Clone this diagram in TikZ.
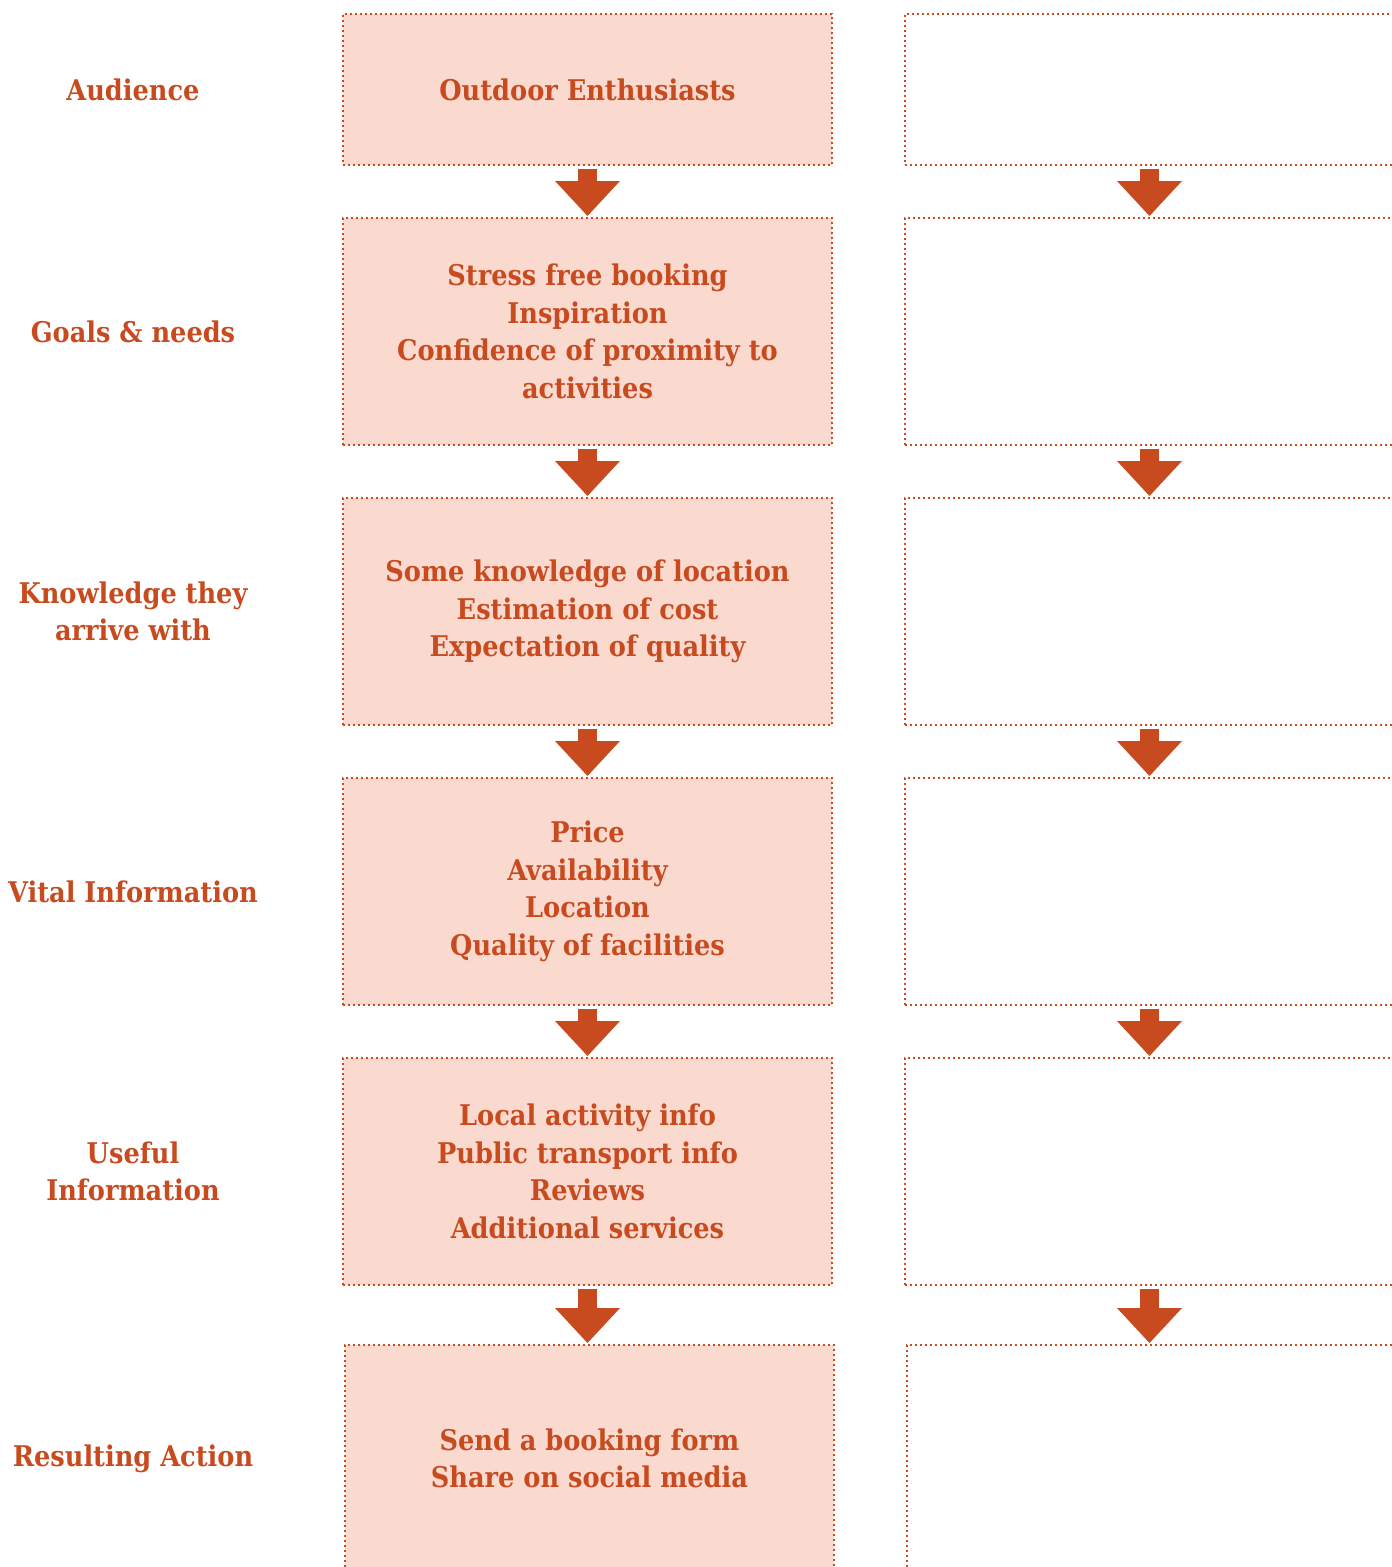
\documentclass[tikz,border=0pt]{standalone}
\usepackage{fontspec}
\setmainfont{DejaVu Serif Condensed}
\usetikzlibrary{positioning, arrows.meta}

\definecolor{rust}{HTML}{C84B20}
\definecolor{blush}{HTML}{FAD9CF}

\begin{document}
\begin{tikzpicture}[x=1pt, y=-1pt, node distance=53pt,
    txt/.style={font=\fontsize{28.5}{37.5}\selectfont\bfseries, text=rust, align=center},
    box/.style={txt, draw=rust, line width=2.4pt, dash pattern=on 2.4pt off 2.6pt, fill=blush,
      minimum width=489pt, minimum height=227pt, inner sep=0pt, outer sep=0pt},
    blank/.style={box, fill=none},
    rowlabel/.style={txt},
    flow/.style={rust, line width=19pt, -{Triangle[width=65pt, length=35pt, line width=0pt]},
      shorten <=4pt, shorten >=2pt}]
        \useasboundingbox (0,0) rectangle (1392,1567);

        % middle column
        \node[box, minimum height=151pt] (aud) at (587.5,89.5) {Outdoor Enthusiasts};
        \node[box, below=of aud]    (goals)  {Stress free booking\\Inspiration\\Confidence of proximity to\\activities};
        \node[box, below=of goals]  (know)   {Some knowledge of location\\Estimation of cost\\Expectation of quality};
        \node[box, below=of know]   (vital)  {Price\\Availability\\Location\\Quality of facilities};
        \node[box, below=of vital]  (useful) {Local activity info\\Public transport info\\Reviews\\Additional services};
        \node[box, below=60pt of useful, xshift=2pt] (action) {Send a booking form\\Share on social media};

        % empty column
        \node[blank, minimum height=151pt, right=73pt of aud] (aud2) {};
        \node[blank, right=73pt of goals]  (goals2)  {};
        \node[blank, right=73pt of know]   (know2)   {};
        \node[blank, right=73pt of vital]  (vital2)  {};
        \node[blank, right=73pt of useful] (useful2) {};
        \node[blank, right=73pt of action] (action2) {};

        % row labels
        \node[rowlabel] (laud)    at (133,0 |- aud)    {Audience};
        \node[rowlabel] (lgoals)  at (133,0 |- goals)  {Goals \& needs};
        \node[rowlabel] (lknow)   at (133,0 |- know)   {Knowledge they\\arrive with};
        \node[rowlabel] (lvital)  at (133,0 |- vital)  {Vital Information};
        \node[rowlabel] (luseful) at (133,0 |- useful) {Useful\\Information};
        \node[rowlabel] (laction) at (133,0 |- action) {Resulting Action};

        % arrows
        \foreach \a/\b in {aud/goals, goals/know, know/vital, vital/useful, useful/action,
                           aud2/goals2, goals2/know2, know2/vital2, vital2/useful2, useful2/action2}
          \draw[flow] (\a.south) -- (\a.south |- \b.north);
\end{tikzpicture}
\end{document}
